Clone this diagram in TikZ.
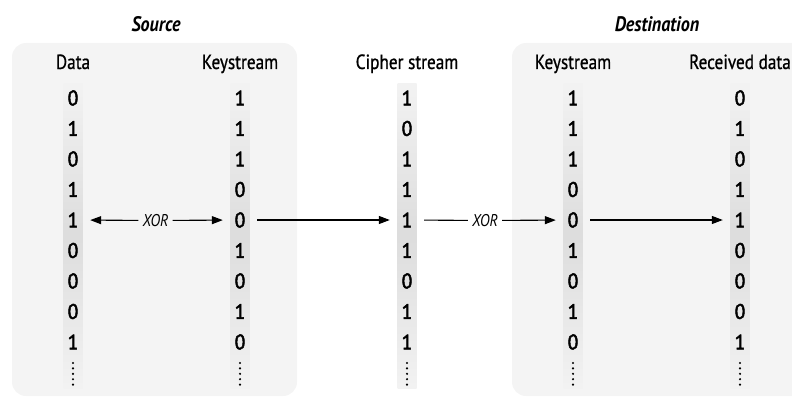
\documentclass[tikz,border=0pt]{standalone}
\usepackage{fontspec}
\setmainfont{PT Sans}[FakeStretch=0.86]
\newfontfamily\digfont{PT Sans}[FakeStretch=0.92,FakeBold=2.5]
\newfontfamily\hdfont{PT Sans}[FakeStretch=0.84,FakeBold=0.8]
\usetikzlibrary{arrows.meta}
\begin{document}
\begin{tikzpicture}[x=1pt,y=-1pt,
  panel/.style={fill=gray!9, draw=none, rounded corners=14pt},
  strip/.style={draw=none, top color=gray!10, bottom color=gray!10, middle color=gray!27},
  digit/.style={font=\digfont\fontsize{21}{21}\selectfont, minimum width=34pt, minimum height=16pt, inner sep=0pt},
  head/.style={font=\hdfont\fontsize{20.5}{20.5}\selectfont, inner sep=0pt, anchor=base},
  ttl/.style={font=\fontsize{21}{21}\selectfont\bfseries\itshape, inner sep=0pt, anchor=base},
  xorlab/.style={font=\fontsize{17}{17}\selectfont\itshape, inner xsep=4pt, inner ysep=2pt},
  conn/.style={line width=1.1pt},
  arr/.style={conn, -{Triangle[length=11pt,width=8pt]}},
  dots/.style={line width=2.4pt, line cap=round, dash pattern=on 0pt off 5.4pt}
]
\useasboundingbox (0,0) rectangle (792,401);
\begin{scope}
  \clip (0,0) rectangle (792,401);
  \fill[panel] (12,43) rectangle (297,396);
  \fill[panel] (512,43) rectangle (820,396);
\end{scope}
% titles
\node[ttl] (tsrc) at (156,32) {Source};
\node[ttl] (tdst) at (657,32) {Destination};
% columns
\foreach \cx/\nm/\hd/\bits in {
  73/d/Data/{0,1,0,1,1,0,0,0,1},
  240/k/Keystream/{1,1,1,0,0,1,0,1,0},
  407/c/Cipher stream/{1,0,1,1,1,1,0,1,1},
  573/e/Keystream/{1,1,1,0,0,1,0,1,0},
  740/r/Received data/{0,1,0,1,1,0,0,0,1}}{
  \fill[strip] (\cx-9.5,84) rectangle (\cx+9.5,388);
  \node[head] (h\nm) at (\cx,69) {\hd};
  \foreach \b [count=\i] in \bits {
    \node[digit] (\nm\i) at (\cx,{98+30.5*(\i-1)}) {\b};
  }
  \coordinate (\nm top) at (\cx,363);
  \coordinate (\nm bot) at (\cx,386);
  \draw[dots] (\nm top) -- (\nm bot);
}
% XOR labels
\node[xorlab] (x1) at (155.5,220.5) {XOR};
\node[xorlab] (x2) at (485,220.5) {XOR};
% connectors
\draw[arr] (x1) -- (d5);
\draw[arr] (x1) -- (k5);
\draw[arr] (k5) -- (c5);
\draw[conn] (c5) -- (x2);
\draw[arr] (x2) -- (e5);
\draw[arr] (e5) -- (r5);
\end{tikzpicture}
\end{document}
